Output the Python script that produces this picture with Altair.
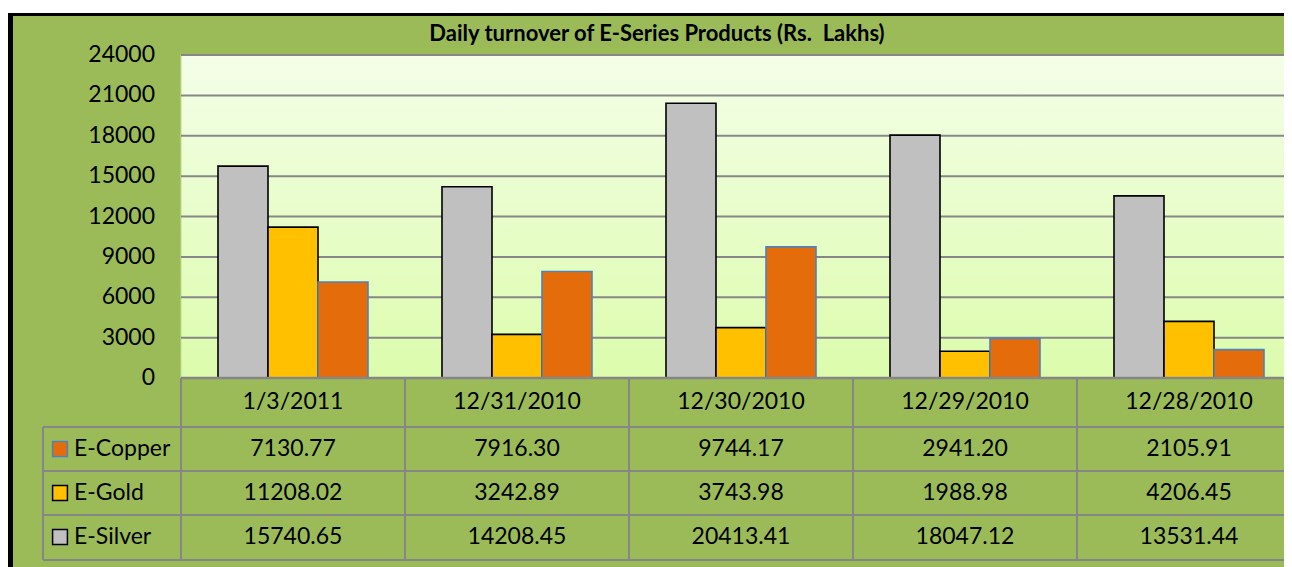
import altair as alt
import pandas as pd

# ---------------- data ----------------
categories = ["1/3/2011", "12/31/2010", "12/30/2010", "12/29/2010", "12/28/2010"]
series_order = ["E-Silver", "E-Gold", "E-Copper"]          # bar order inside a group
table_order = ["E-Copper", "E-Gold", "E-Silver"]           # row order in the data table
e_copper = [7130.77, 7916.30, 9744.17, 2941.20, 2105.91]
e_gold = [11208.02, 3242.89, 3743.98, 1988.98, 4206.45]
e_silver = [15740.65, 14208.45, 20413.41, 18047.12, 13531.44]
y_ticks = [0, 3000, 6000, 9000, 12000, 15000, 18000, 21000, 24000]
title_text = "Daily turnover of E-Series Products (Rs.\u00a0 Lakhs)"

values_by_series = {"E-Silver": e_silver, "E-Gold": e_gold, "E-Copper": e_copper}
rows = []
for s in series_order:
    for c, v in zip(categories, values_by_series[s]):
        rows.append({"cat": c, "series": s, "value": v})
df = pd.DataFrame(rows)
cat_df = pd.DataFrame({"cat": categories})
tick_df = pd.DataFrame({"t": y_ticks})
one = pd.DataFrame({"d": [0]})

# ---------------- styles / layout ----------------
FILL = {"E-Silver": "#C0C0C0", "E-Gold": "#FFC000", "E-Copper": "#E46C0A"}
STROKE = {"E-Silver": "#000000", "E-Gold": "#000000", "E-Copper": "#4F81BD"}
FONT = "Lato"
FS = 23
PW = 1120      # full plot width (runs past the window edge like the reference)
VW = 1103      # visible view width
PH = 323       # plot height
GRID_C = "#878787"

xscale = alt.Scale(domain=categories, range=[0, PW], paddingInner=0, paddingOuter=0)
yscale = alt.Scale(domain=[0, 24000], nice=False, zero=True)
X = alt.X("cat:N", sort=categories, scale=xscale, axis=None)

# outer frame
black = alt.Chart(one).mark_rect(color="#000000").encode(
    x=alt.value(-173), x2=alt.value(1300), y=alt.value(-42), y2=alt.value(700))
green = alt.Chart(one).mark_rect(color="#9BBB59").encode(
    x=alt.value(-168), x2=alt.value(1300), y=alt.value(-39), y2=alt.value(700))

# plot area with gradient
plot_bg = alt.Chart(one).mark_rect(
    fill=alt.LinearGradient(
        gradient="linear", x1=0, x2=0, y1=0, y2=1,
        stops=[alt.GradientStop(color="#F4FEE8", offset=0),
               alt.GradientStop(color="#DCFCAC", offset=1)]),
    stroke="#BFDC8E", strokeWidth=1,
).encode(x=alt.value(0), x2=alt.value(PW), y=alt.value(0), y2=alt.value(PH))

grid = alt.Chart(tick_df[tick_df["t"] > 0]).mark_rule(color=GRID_C, strokeWidth=2).encode(
    y=alt.Y("t:Q", scale=yscale, axis=None),
    x=alt.value(0), x2=alt.value(PW))

y_labels = alt.Chart(tick_df).mark_text(
    font=FONT, fontSize=FS, color="#000000", align="right", baseline="middle").encode(
    y=alt.Y("t:Q", scale=yscale, axis=None),
    x=alt.value(-26), text=alt.Text("t:Q", format="d"))

bars = alt.Chart(df).mark_bar(strokeWidth=1.6).encode(
    x=X,
    xOffset=alt.XOffset("series:N", sort=series_order,
                        scale=alt.Scale(domain=series_order, paddingInner=0, paddingOuter=0.74)),
    y=alt.Y("value:Q", scale=yscale, axis=None),
    fill=alt.Fill("series:N", scale=alt.Scale(domain=series_order,
                                              range=[FILL[s] for s in series_order]), legend=None),
    stroke=alt.Stroke("series:N", scale=alt.Scale(domain=series_order,
                                                  range=[STROKE[s] for s in series_order]), legend=None),
)

zero_line = alt.Chart(one).mark_rule(color="#868686", strokeWidth=2.5).encode(
    x=alt.value(0), x2=alt.value(PW), y=alt.value(PH))

# ---------------- data table ----------------
TBL_C = "#868686"
row_lines_y = [372, 416, 460, 505]
row_text_y = {"E-Copper": 394, "E-Gold": 438, "E-Silver": 482}
header_y = 347
left_x = -138

table_layers = []
for yy in row_lines_y:
    table_layers.append(alt.Chart(one).mark_rule(color=TBL_C, strokeWidth=2).encode(
        x=alt.value(left_x), x2=alt.value(PW), y=alt.value(yy)))
table_layers.append(alt.Chart(cat_df).mark_rule(color=TBL_C, strokeWidth=2).encode(
    x=alt.X("cat:N", sort=categories, scale=xscale, axis=None, bandPosition=0),
    y=alt.value(PH), y2=alt.value(row_lines_y[-1])))
table_layers.append(alt.Chart(one).mark_rule(color=TBL_C, strokeWidth=2).encode(
    x=alt.value(left_x), y=alt.value(row_lines_y[0]), y2=alt.value(row_lines_y[-1])))

table_layers.append(alt.Chart(cat_df).mark_text(
    font=FONT, fontSize=FS, color="#000000", baseline="middle").encode(
    x=X, y=alt.value(header_y), text="cat:N"))

for s in table_order:
    sub = df[df["series"] == s]
    table_layers.append(alt.Chart(sub).mark_text(
        font=FONT, fontSize=FS, color="#000000", baseline="middle").encode(
        x=X, y=alt.value(row_text_y[s]), text=alt.Text("value:Q", format=".2f")))
    table_layers.append(alt.Chart(pd.DataFrame({"series": [s]})).mark_square(
        size=220, fill=FILL[s], stroke=STROKE[s], strokeWidth=1.5, opacity=1).encode(
        x=alt.value(-121), y=alt.value(row_text_y[s])))
    table_layers.append(alt.Chart(pd.DataFrame({"series": [s]})).mark_text(
        font=FONT, fontSize=FS, color="#000000", baseline="middle", align="left").encode(
        x=alt.value(-107), y=alt.value(row_text_y[s]), text="series:N"))

title_mark = alt.Chart(pd.DataFrame({"title": [title_text]})).mark_text(
    font=FONT, fontSize=22, fontWeight="bold", color="#000000", baseline="middle", align="center").encode(
    x=alt.value(476), y=alt.value(-21), text="title:N")

chart = alt.layer(black, green, plot_bg, grid, bars, zero_line, y_labels,
                  *table_layers, title_mark).properties(
    width=VW, height=PH,
    padding={"left": 173, "top": 47, "right": 0, "bottom": 189},
    autosize=alt.AutoSizeParams(type="none"),
    background="#FFFFFF",
).configure_view(stroke=None, fill=None)

chart.save("out.html", embed_options={"renderer": "svg", "actions": False})
